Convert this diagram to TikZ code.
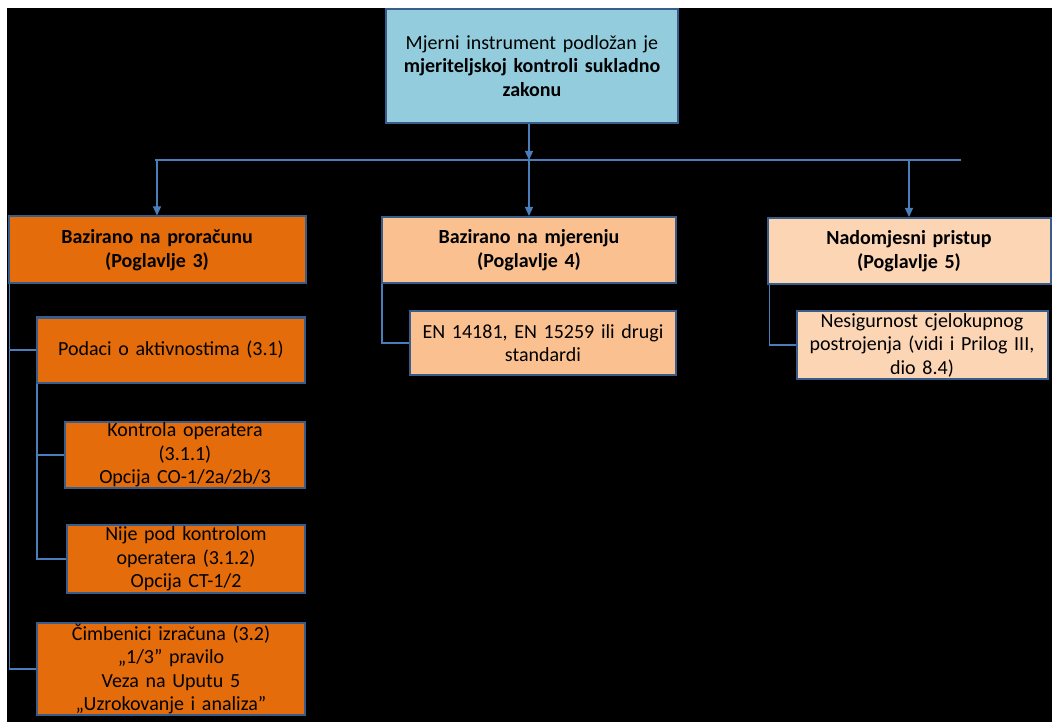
\documentclass[tikz,border=0pt]{standalone}
\usepackage{fontspec}
\setmainfont{Carlito}
\usepackage{xcolor}
\definecolor{chart-black}{HTML}{000000}
\definecolor{chart-aqua}{HTML}{93CDDD}
\definecolor{chart-orange}{HTML}{E46C0A}
\definecolor{chart-peach}{HTML}{FAC090}
\definecolor{chart-sand}{HTML}{FCD5B5}
\definecolor{chart-edge}{HTML}{385D8A}
\definecolor{chart-line}{HTML}{4A7EBB}
\usepackage{tikz}
\usetikzlibrary{arrows.meta}

\tikzset{
    box/.style={draw=chart-edge, line width=2pt, align=center, inner xsep=0pt, inner ysep=0pt, font=\fontsize{20}{23.5}\selectfont, text=black},
    conn/.style={draw=chart-line, line width=1.3pt},
    tip/.style={conn, -{Triangle[width=8pt, length=9pt]}}
}

\begin{document}
\begin{tikzpicture}[x=1pt, y=-1pt]

    \fill[white] (0, 0) rectangle (1052, 727);
    \useasboundingbox (0, 0) rectangle (1052, 727);
    \fill[chart-black] (7, 8) rectangle (1052, 722);

    % Top
    \node[box, fill=chart-aqua, text width=292pt, minimum height=114pt] (law) at (532, 66)
        {Mjerni instrument podložan je\\ \textbf{mjeriteljskoj kontroli sukladno}\\ \textbf{zakonu}};

    % Approaches
    \node[box, fill=chart-orange, text width=297pt, minimum height=67pt] (calc) at (157, 250)
        {\textbf{Bazirano na proračunu}\\ \textbf{(Poglavlje 3)}};
    \node[box, fill=chart-peach, text width=294pt, minimum height=66pt] (meas) at (529, 250)
        {\textbf{Bazirano na mjerenju}\\ \textbf{(Poglavlje 4)}};
    \node[box, fill=chart-sand, text width=283pt, minimum height=66pt] (fall) at (909, 251)
        {\textbf{Nadomjesni pristup}\\ \textbf{(Poglavlje 5)}};

    % Calculation branch
    \node[box, fill=chart-orange, text width=268pt, minimum height=65pt] (activ) at (171, 350)
        {Podaci o aktivnostima (3.1)};
    \node[box, fill=chart-orange, text width=240pt, minimum height=66pt] (opctl) at (185, 455)
        {Kontrola operatera\\ (3.1.1)\\ Opcija CO-1/2a/2b/3};
    \node[box, fill=chart-orange, text width=238pt, minimum height=68pt] (noctl) at (186, 559)
        {Nije pod kontrolom\\ operatera (3.1.2)\\ Opcija CT-1/2};
    \node[box, fill=chart-orange, text width=268pt, minimum height=92pt] (factor) at (171, 669)
        {Čimbenici izračuna (3.2)\\ „1/3” pravilo\\ Veza na Uputu 5\\ „Uzrokovanje i analiza”};

    % Measurement and fall-back branches
    \node[box, fill=chart-peach, text width=266pt, minimum height=63pt] (norm) at (543, 343)
        {EN 14181, EN 15259 ili drugi\\ standardi};
    \node[box, fill=chart-sand, text width=251pt, minimum height=67pt] (unc) at (922, 345)
        {Nesigurnost cjelokupnog\\ postrojenja (vidi i Prilog III,\\ dio 8.4)};

    % Connectors
    \coordinate (bus) at (529, 160);
    \draw[tip] (bus |- law.south) -- (bus);
    \draw[conn] (155, 160) -- (961, 160);
    \draw[tip] (bus) -- (meas.north);
    \draw[tip] (bus) -| (calc.north);
    \draw[tip] (bus) -| (fall.north);

    \draw[conn] ([xshift=2pt]calc.south west) |- (factor.west);
    \draw[conn] ([xshift=2pt]calc.south west) |- (activ.west);
    \draw[conn] ([xshift=1pt]activ.south west) |- (noctl.west);
    \draw[conn] ([xshift=1pt]activ.south west) |- (opctl.west);
    \draw[conn] ([xshift=1pt]meas.south west) |- (norm.west);
    \draw[conn] ([xshift=3pt]fall.south west) |- (unc.west);

\end{tikzpicture}
\end{document}
